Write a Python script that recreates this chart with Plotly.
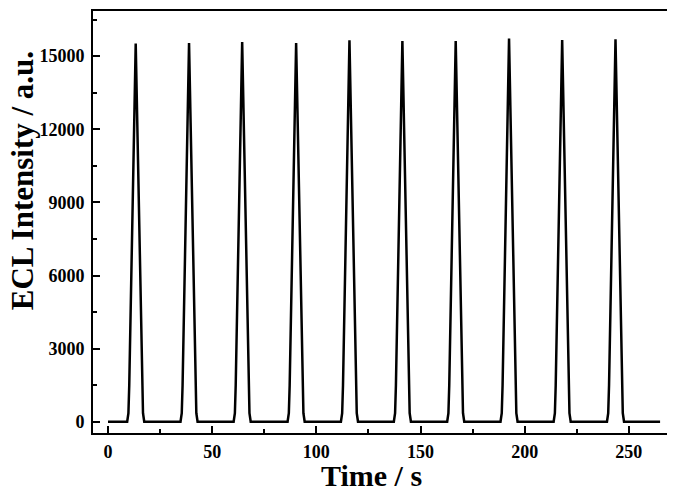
import plotly.graph_objects as go

# Tidsserie (s) och ECL-intensitet (a.u.)
time_s = [
    0.0,
    9.2, 9.8, 10.2, 13.3, 16.4, 16.8, 17.4,
    34.8, 35.4, 35.8, 38.9, 42.0, 42.4, 43.0,
    60.3, 60.9, 61.3, 64.4, 67.5, 67.9, 68.5,
    86.2, 86.8, 87.2, 90.3, 93.4, 93.8, 94.4,
    111.8, 112.4, 112.8, 115.9, 119.0, 119.4, 120.0,
    137.2, 137.8, 138.2, 141.3, 144.4, 144.8, 145.4,
    162.8, 163.4, 163.8, 166.9, 170.0, 170.4, 171.0,
    188.4, 189.0, 189.4, 192.5, 195.6, 196.0, 196.6,
    213.9, 214.5, 214.9, 218.0, 221.1, 221.5, 222.1,
    239.5, 240.1, 240.5, 243.6, 246.7, 247.1, 247.7,
    265.0,
]
intensity = [
    0,
    0, 350, 1500, 15520, 1500, 350, 0,
    0, 350, 1500, 15540, 1500, 350, 0,
    0, 350, 1500, 15580, 1500, 350, 0,
    0, 350, 1500, 15540, 1500, 350, 0,
    0, 350, 1500, 15650, 1500, 350, 0,
    0, 350, 1500, 15620, 1500, 350, 0,
    0, 350, 1500, 15620, 1500, 350, 0,
    0, 350, 1500, 15720, 1500, 350, 0,
    0, 350, 1500, 15660, 1500, 350, 0,
    0, 350, 1500, 15690, 1500, 350, 0,
    0,
]

x_ticks = [0, 50, 100, 150, 200, 250]
y_ticks = [0, 3000, 6000, 9000, 12000, 15000]

FONT = "Liberation Serif"

fig = go.Figure()
fig.add_trace(go.Scatter(
    x=time_s, y=intensity, mode="lines",
    line=dict(color="black", width=2.5),
    showlegend=False,
))

axis_common = dict(
    showline=True, linecolor="black", linewidth=2, mirror=True,
    showgrid=False, zeroline=False,
    ticks="inside", ticklen=7, tickwidth=2, tickcolor="black",
    tickfont=dict(family=FONT, size=18, color="black", weight="bold"),
)

fig.update_xaxes(
    range=[-7.2, 268.8], tickvals=x_ticks,
    minor=dict(dtick=25, tick0=0, ticks="inside", ticklen=4, tickwidth=2, tickcolor="black"),
    ticklabelstandoff=1,
    **axis_common,
)
fig.update_yaxes(
    range=[-461, 16852], tickvals=y_ticks, tickformat="d",
    minor=dict(dtick=1500, tick0=0, ticks="inside", ticklen=4, tickwidth=2, tickcolor="black"),
    ticklabelstandoff=3,
    **axis_common,
)

# sidan har 8 px marginal runt figuren, så figuren görs lite mindre
fig.update_layout(
    width=667, height=485,
    margin=dict(l=85, r=7, t=1, b=60),
    plot_bgcolor="white", paper_bgcolor="white",
    annotations=[
        dict(text="Time / s", xref="paper", yref="paper", x=0.4847, y=-0.101,
             xanchor="center", yanchor="middle", showarrow=False,
             font=dict(family=FONT, size=30, color="black", weight="bold")),
        dict(text="ECL Intensity / a.u.", xref="paper", yref="paper", x=-0.1235, y=0.599,
             xanchor="center", yanchor="middle", textangle=-90, showarrow=False,
             font=dict(family=FONT, size=31, color="black", weight="bold")),
    ],
)

fig.write_html("out.html")
